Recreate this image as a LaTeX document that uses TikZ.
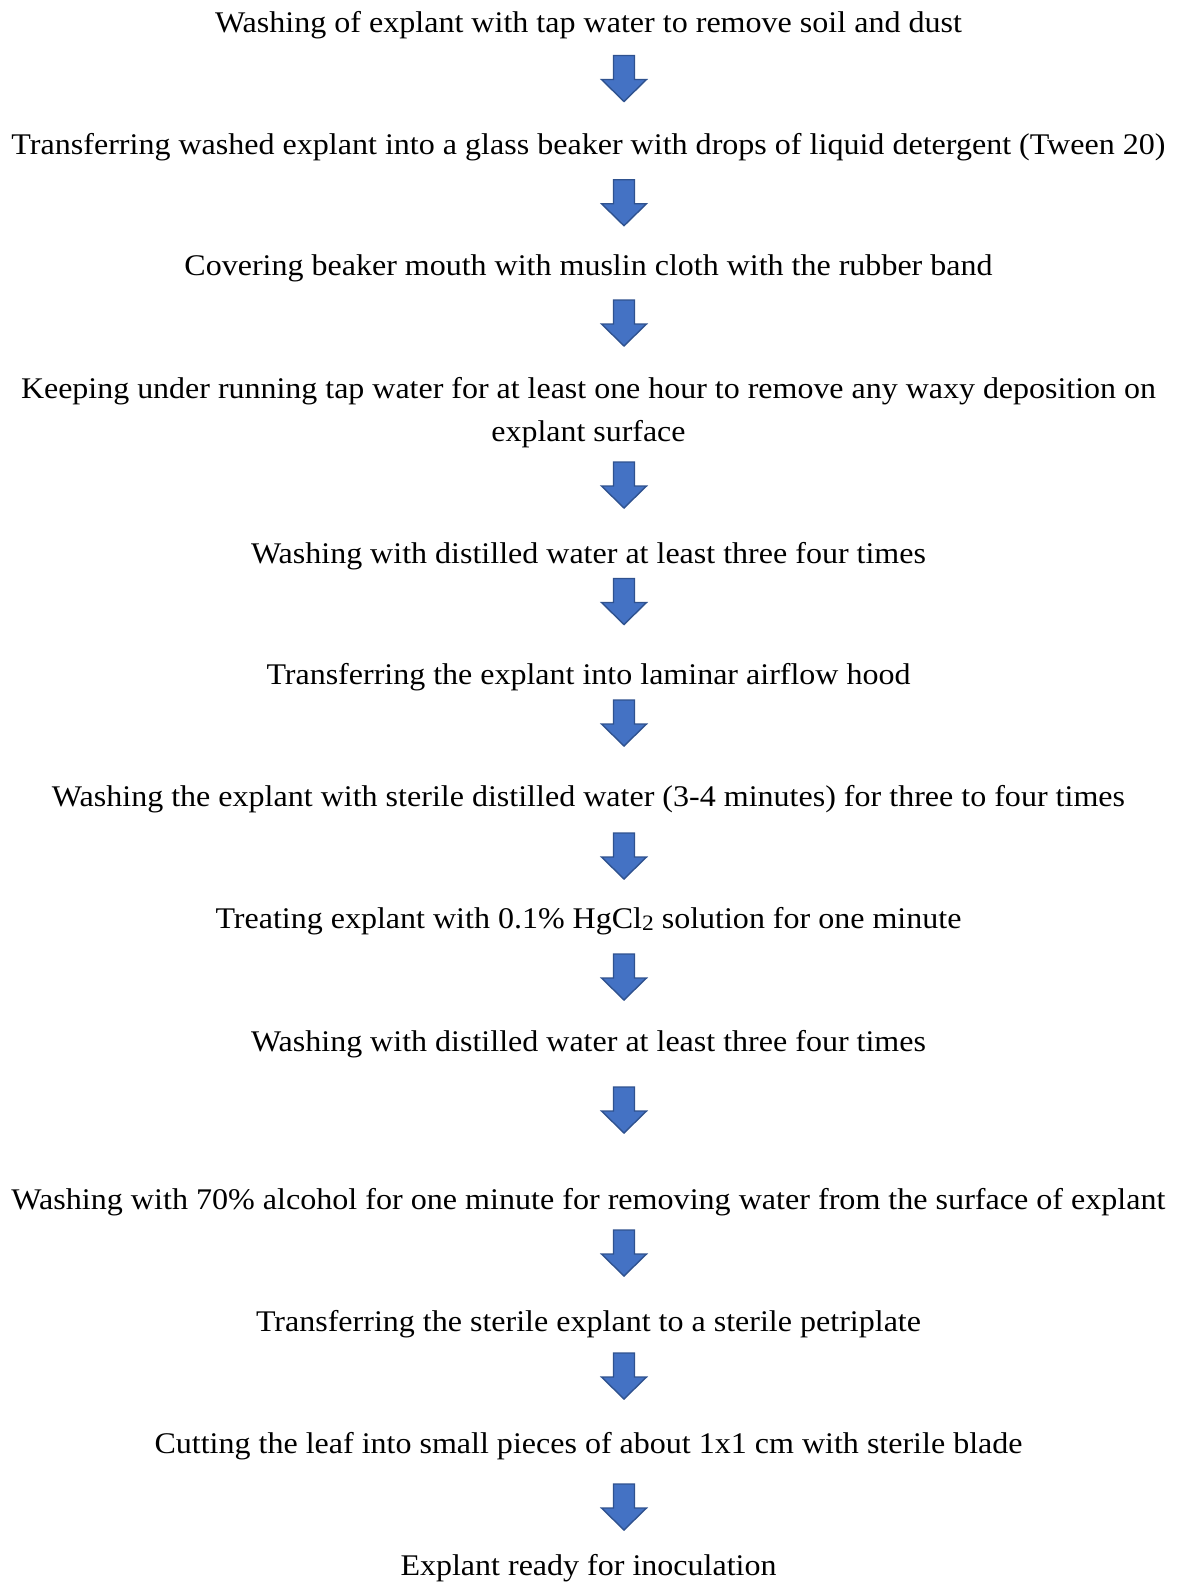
\documentclass[tikz,border=0pt]{standalone}
\usepackage{fontspec}
\setmainfont{Liberation Serif}
\usepackage{graphicx}
\definecolor{arrfill}{HTML}{4472C4}
\definecolor{arredge}{HTML}{2F528F}
\newcommand\fitw[2]{\setbox0\hbox{#2}\pgfmathsetmacro\myratio{#1/\the\wd0}\scalebox{\myratio}[1]{\box0}}
\tikzset{
  lbl/.style={anchor=base, inner sep=0pt, align=center, font=\fontsize{30}{42.4}\selectfont},
  pics/blockarrow/.style={code={
    \draw[fill=arrfill, draw=arredge, line width=1.4pt, line join=miter]
      (-10.5,0) -- (10.5,0) -- (10.5,24) -- (22.5,24) -- (0,46) -- (-22.5,24) -- (-10.5,24) -- cycle;
  }}
}
\begin{document}
\begin{tikzpicture}[x=1pt,y=-1pt]
\useasboundingbox (0,0) rectangle (1177,1583);
\node[lbl] (s1) at (588.5,32) {\fitw{747}{Washing of explant with tap water to remove soil and dust}};
\node[lbl] (s2) at (588.5,154) {\fitw{1154}{Transferring washed explant into a glass beaker with drops of liquid detergent (Tween 20)}};
\node[lbl] (s3) at (588.5,275) {\fitw{808}{Covering beaker mouth with muslin cloth with the rubber band}};
\node[lbl] (s4) at (588.5,441) {\fitw{1135}{Keeping under running tap water for at least one hour to remove any waxy deposition on}\\\fitw{194}{explant surface}};
\node[lbl] (s5) at (588.5,563) {\fitw{675}{Washing with distilled water at least three four times}};
\node[lbl] (s6) at (588.5,684) {\fitw{644}{Transferring the explant into laminar airflow hood}};
\node[lbl] (s7) at (588.5,806.5) {\fitw{1073}{Washing the explant with sterile distilled water (3-4 minutes) for three to four times}};
\node[lbl] (s8) at (588.5,928.5) {\fitw{746}{Treating explant with 0.1\% HgCl{\fontsize{22}{24}\selectfont\raisebox{-2pt}{2}} solution for one minute}};
\node[lbl] (s9) at (588.5,1051) {\fitw{675}{Washing with distilled water at least three four times}};
\node[lbl] (s10) at (588.5,1209.5) {\fitw{1154}{Washing with 70\% alcohol for one minute for removing water from the surface of explant}};
\node[lbl] (s11) at (588.5,1331.5) {\fitw{665}{Transferring the sterile explant to a sterile petriplate}};
\node[lbl] (s12) at (588.5,1453.5) {\fitw{868}{Cutting the leaf into small pieces of about 1x1 cm with sterile blade}};
\node[lbl] (s13) at (588.5,1575.5) {\fitw{376}{Explant ready for inoculation}};
\foreach \yy in {55.5,179.7,300,462,578.5,700,833,954,1087,1230,1353,1484}
  \pic at (624,\yy) {blockarrow};
\end{tikzpicture}
\end{document}
